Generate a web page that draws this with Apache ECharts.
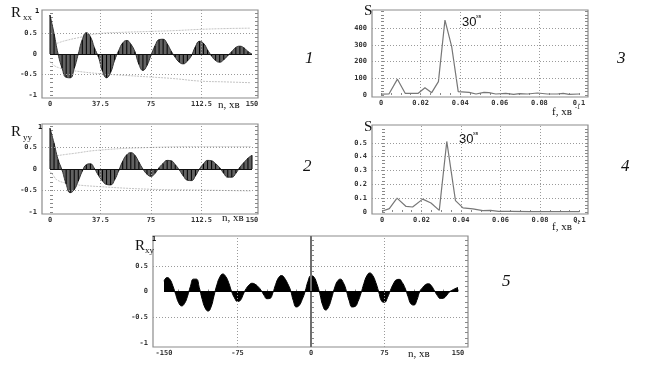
<!DOCTYPE html>
<html><head><meta charset="utf-8">
<script src="https://cdn.jsdelivr.net/npm/echarts@6/dist/echarts.min.js"></script>
<style>html,body{margin:0;padding:0;background:#fff}#c{width:648px;height:379px}</style>
</head><body><div id="c"></div>
<script>
// ---------- data ----------
const lagA = [0,3,6,9,12,15,18,21,24,27,30,33,36,39,42,45,48,51,54,57,60,63,66,69,72,75,78,81,84,87,90,93,96,99,102,105,108,111,114,117,120,123,126,129,132,135,138,141,144,147,150];
const rxx = [0.95,0.5,0.0,-0.35,-0.57,-0.58,-0.35,0.0,0.35,0.52,0.42,0.15,-0.08,-0.42,-0.58,-0.45,-0.15,0.08,0.27,0.33,0.24,0.06,-0.25,-0.4,-0.28,-0.03,0.2,0.35,0.36,0.25,0.07,-0.08,-0.2,-0.24,-0.17,-0.04,0.18,0.31,0.26,0.1,-0.05,-0.16,-0.2,-0.14,-0.04,0.06,0.16,0.19,0.15,0.06,0.0];
const ryy = [0.95,0.6,0.22,-0.03,-0.35,-0.55,-0.48,-0.28,-0.05,0.1,0.12,0.01,-0.15,-0.28,-0.36,-0.37,-0.25,-0.04,0.18,0.33,0.38,0.32,0.16,0.0,-0.12,-0.17,-0.1,0.03,0.13,0.2,0.19,0.1,-0.02,-0.16,-0.26,-0.27,-0.16,0.0,0.12,0.2,0.19,0.12,0.03,-0.1,-0.19,-0.19,-0.1,0.04,0.15,0.25,0.32];
const bandXXn  = [0,3,7,12,20,37,55,74,92,111,130,149];
const bandXXup = [0.12,0.22,0.28,0.33,0.39,0.5,0.53,0.55,0.57,0.6,0.62,0.63];
const bandXXlo = [-0.18,-0.28,-0.34,-0.38,-0.42,-0.48,-0.52,-0.56,-0.6,-0.66,-0.68,-0.7];
const bandYYn  = [0,2.5,5,12,17,37,74,111,149];
const bandYYup = [0.2,0.3,0.31,0.34,0.36,0.44,0.5,0.52,0.52];
const bandYYlo = [-0.06,-0.15,-0.25,-0.33,-0.36,-0.41,-0.47,-0.49,-0.51];
const f3 = [0,0.004,0.0083,0.0122,0.0188,0.0222,0.0256,0.029,0.0323,0.0357,0.039,0.0445,0.048,0.052,0.0545,0.058,0.063,0.067,0.07,0.074,0.079,0.084,0.089,0.092,0.095,0.1];
const s3 = [5,6,95,10,10,44,14,80,450,290,20,16,6,16,14,6,10,4,8,6,12,6,6,10,4,6];
const f4 = [0,0.0037,0.0076,0.0122,0.0155,0.0206,0.0248,0.029,0.0328,0.0372,0.041,0.046,0.051,0.055,0.059,0.065,0.075,0.085,0.1];
const s4 = [0.005,0.024,0.1,0.04,0.036,0.093,0.065,0.012,0.51,0.082,0.03,0.022,0.01,0.012,0.005,0.004,0.003,0.003,0.003];
const lag5 = [-150,-147,-144,-141,-138,-135,-132,-129,-126,-123,-120,-117,-114,-111,-108,-105,-102,-99,-96,-93,-90,-87,-84,-81,-78,-75,-72,-69,-66,-63,-60,-57,-54,-51,-48,-45,-42,-39,-36,-33,-30,-27,-24,-21,-18,-15,-12,-9,-6,-3,0,3,6,9,12,15,18,21,24,27,30,33,36,39,42,45,48,51,54,57,60,63,66,69,72,75,78,81,84,87,90,93,96,99,102,105,108,111,114,117,120,123,126,129,132,135,138,141,144,147,150];
const rxy = [0.20,0.27,0.236,0.11,-0.06,-0.22,-0.28,-0.23,-0.09,0.10,0.24,0.24,0.075,-0.15,-0.32,-0.38,-0.30,-0.085,0.13,0.28,0.34,0.29,0.17,0,-0.125,-0.195,-0.17,-0.05,0.06,0.13,0.16,0.14,0.094,0.025,-0.07,-0.14,-0.135,-0.03,0.14,0.27,0.31,0.26,0.16,0.03,-0.18,-0.30,-0.27,-0.155,0,0.2,0.306,0.28,0.15,-0.04,-0.27,-0.36,-0.295,-0.13,0.066,0.2,0.24,0.17,0.02,-0.18,-0.30,-0.29,-0.19,-0.034,0.156,0.305,0.36,0.31,0.18,0,-0.185,-0.21,-0.12,0.02,0.145,0.225,0.236,0.177,0.066,-0.096,-0.24,-0.263,-0.168,0,0.08,0.134,0.15,0.106,0.014,-0.08,-0.136,-0.13,-0.085,-0.013,0.025,0.055,0.08];
// tick labels
const lagTicks = [0,37.5,75,112.5,150];
const corrTicks = [-1,-0.5,0,0.5];
const corrMinor = [-1,-0.9,-0.8,-0.7,-0.6,-0.5,-0.4,-0.3,-0.2,-0.1,0,0.1,0.2,0.3,0.4,0.5,0.6,0.7,0.8,0.9,1];
const fTicks = [0,0.02,0.04,0.06,0.08,0.1];
const fMinor = [0,0.005,0.01,0.015,0.02,0.025,0.03,0.035,0.04,0.045,0.05,0.055,0.06,0.065,0.07,0.075,0.08,0.085,0.09,0.095,0.1];
const s3Ticks = [0,100,200,300,400];
const s3Minor = [0,20,40,60,80,100,120,140,160,180,200,220,240,260,280,300,320,340,360,380,400,420,440,460,480,500];
const s4Ticks = [0,0.1,0.2,0.3,0.4,0.5];
const s4Minor = [0,0.025,0.05,0.075,0.1,0.125,0.15,0.175,0.2,0.225,0.25,0.275,0.3,0.325,0.35,0.375,0.4,0.425,0.45,0.475,0.5,0.525,0.55,0.575,0.6];
const lag5Ticks = [-150,-75,0,75,150];
const lag5Minor = [-150,-135,-120,-105,-90,-75,-60,-45,-30,-15,0,15,30,45,60,75,90,105,120,135,150];

// ---------- layout ----------
const zip = (a, b) => a.map((v, i) => [v, b[i]]);
function ext(a, b, pa, pb, lo, hi) { const k = (b - a) / (pb - pa); return [a + (lo - pa) * k, a + (hi - pa) * k]; }
const G = [
  {l:42, t:10, r:258, b:98,  x:ext(0,150,50,252,42,258),       y:ext(0,0.5,54,33.5,98,10)},
  {l:42, t:124,r:258, b:214, x:ext(0,150,50,252,42,258),       y:ext(0,-1,169,212,214,124)},
  {l:372,t:10, r:588, b:97,  x:ext(0,0.1,381,579,372,588),     y:ext(0,500,95,11.7,97,10)},
  {l:372,t:125,r:588, b:214, x:ext(0,0.1,382,579.5,372,588),   y:ext(0,0.6,212,129,214,125)},
  {l:153,t:236,r:468, b:347, x:ext(-150,150,164,458,153,468),  y:ext(0,1,291.5,240,347,236)}
];
const lblFont = {fontSize:7, fontFamily:'DejaVu Sans Mono', fontWeight:'bold', color:'#333'};
const grids = G.map(g => ({left:g.l, top:g.t, width:g.r-g.l, height:g.b-g.t, show:true, borderColor:'#8c8c8c', borderWidth:1.2, backgroundColor:'#fff'}));
const xAxes = [], yAxes = [];
const cfg = [
  {xl:lagTicks, xm:null, yl:corrTicks, ym:corrMinor},
  {xl:lagTicks, xm:null, yl:corrTicks, ym:corrMinor},
  {xl:fTicks, xm:fMinor, yl:s3Ticks, ym:s3Minor},
  {xl:fTicks, xm:fMinor, yl:s4Ticks, ym:s4Minor},
  {xl:lag5Ticks, xm:lag5Minor, yl:corrTicks, ym:corrMinor}
];
G.forEach((g, i) => {
  const c = cfg[i];
  xAxes.push({type:'value', gridIndex:i, min:g.x[0], max:g.x[1], splitLine:{show:false}, axisLine:{show:false},
    axisTick:{show:!!c.xm, inside:true, length:2, customValues:c.xm || [], lineStyle:{color:'#888'}},
    axisLabel:Object.assign({customValues:c.xl, margin:3, showMinLabel:true, showMaxLabel:true}, lblFont)});
  yAxes.push({type:'value', gridIndex:i, min:g.y[0], max:g.y[1], splitLine:{show:false}, axisLine:{show:false},
    axisTick:{show:true, inside:true, length:3, customValues:c.ym, lineStyle:{color:'#888'}},
    axisLabel:Object.assign({customValues:c.yl, margin:5, showMinLabel:true, showMaxLabel:true}, lblFont)});
  yAxes.push({type:'value', gridIndex:i, position:'right', min:g.y[0], max:g.y[1], splitLine:{show:false}, axisLine:{show:false},
    axisTick:{show:true, inside:true, length:3, customValues:c.ym, lineStyle:{color:'#888'}}, axisLabel:{show:false}});
});
const dotted = {type:[1,2], color:'#9a9a9a', width:1};
function gridLines(i, xs, ys) {
  return {type:'line', xAxisIndex:i, yAxisIndex:2*i, data:[], z:1, silent:true,
    markLine:{silent:true, symbol:'none', label:{show:false}, animation:false, lineStyle:dotted,
      data: xs.map(v => ({xAxis:v})).concat(ys.map(v => ({yAxis:v})))}};
}
function zeroLine(a, b, color) {
  return {silent:true, symbol:'none', label:{show:false}, animation:false, lineStyle:{type:'solid', color:color, width:1},
    data:[[{coord:[a,0]},{coord:[b,0]}]]};
}
const series = [
  gridLines(0, [37.5,75,112.5], [-0.5,0.5]),
  gridLines(1, [37.5,75,112.5], [-0.5,0.5]),
  gridLines(2, [0.02,0.04,0.06,0.08], [100,200,300,400]),
  gridLines(3, [0.02,0.04,0.06,0.08], [0.1,0.2,0.3,0.4,0.5]),
  gridLines(4, [-75,75], [-0.5,0.5]),
  // panel 1
  {type:'line', xAxisIndex:0, yAxisIndex:0, data:zip(bandXXn,bandXXup), symbol:'none', smooth:true, z:2, lineStyle:{color:'#c4c4c4', width:1, type:[2,1]}},
  {type:'line', xAxisIndex:0, yAxisIndex:0, data:zip(bandXXn,bandXXlo), symbol:'none', smooth:true, z:2, lineStyle:{color:'#c4c4c4', width:1, type:[2,1]}},
  {type:'line', xAxisIndex:0, yAxisIndex:0, data:zip(lagA,rxx), symbol:'none', smooth:true, z:3, lineStyle:{color:'#333', width:1}, areaStyle:{color:'#626262', opacity:1}},
  {type:'bar', xAxisIndex:0, yAxisIndex:0, data:zip(lagA,rxx), barWidth:1, z:4, itemStyle:{color:'#000'}, markLine:zeroLine(0,150,'#111')},
  // panel 2
  {type:'line', xAxisIndex:1, yAxisIndex:2, data:zip(bandYYn,bandYYup), symbol:'none', smooth:true, z:2, lineStyle:{color:'#c4c4c4', width:1, type:[2,1]}},
  {type:'line', xAxisIndex:1, yAxisIndex:2, data:zip(bandYYn,bandYYlo), symbol:'none', smooth:true, z:2, lineStyle:{color:'#c4c4c4', width:1, type:[2,1]}},
  {type:'line', xAxisIndex:1, yAxisIndex:2, data:zip(lagA,ryy), symbol:'none', smooth:true, z:3, lineStyle:{color:'#333', width:1}, areaStyle:{color:'#626262', opacity:1}},
  {type:'bar', xAxisIndex:1, yAxisIndex:2, data:zip(lagA,ryy), barWidth:1, z:4, itemStyle:{color:'#000'}, markLine:zeroLine(0,150,'#111')},
  // panel 3
  {type:'line', xAxisIndex:2, yAxisIndex:4, data:zip(f3,s3), symbol:'none', z:3, lineStyle:{color:'#777', width:1.2}},
  // panel 4
  {type:'line', xAxisIndex:3, yAxisIndex:6, data:zip(f4,s4), symbol:'none', z:3, lineStyle:{color:'#777', width:1.2}},
  // panel 5
  {type:'line', xAxisIndex:4, yAxisIndex:8, data:[], z:2, silent:true,
    markLine:{silent:true, symbol:'none', label:{show:false}, animation:false, lineStyle:{type:'solid', color:'#6e6e6e', width:2}, data:[{xAxis:0}]}},
  {type:'line', xAxisIndex:4, yAxisIndex:8, data:zip(lag5,rxy), symbol:'none', smooth:true, z:3, lineStyle:{color:'#000', width:1}, areaStyle:{color:'#000', opacity:1}, markLine:zeroLine(-150,150,'#000')}
];
const serif = '"Liberation Serif", serif';
function txt(x, y, text, font) {
  return {type:'text', x:x, y:y, silent:true, style:{text:text, font:font, fill:'#111', align:'left', textAlign:'left', verticalAlign:'top', textVerticalAlign:'top'}};
}
const graphic = [
  txt(11, 6, 'R', '15px ' + serif), txt(23, 13, 'xx', '9px ' + serif), txt(35, 8, '1', 'bold 7px "DejaVu Sans Mono"'),
  txt(11, 125, 'R', '15px ' + serif), txt(23, 133, 'yy', '9px ' + serif), txt(38, 124, '1', 'bold 7px "DejaVu Sans Mono"'),
  txt(135, 239, 'R', '15px ' + serif), txt(145, 246, 'xy', '9px ' + serif), txt(152, 236, '1', 'bold 7px "DejaVu Sans Mono"'),
  txt(218, 100, 'n, хв', '11px ' + serif), txt(222, 213, 'n, хв', '11px ' + serif), txt(408, 349, 'n, хв', '11px ' + serif),
  txt(552, 107, 'f, хв', '11px ' + serif), txt(575, 104, '-1', '6px ' + serif),
  txt(552, 222, 'f, хв', '11px ' + serif), txt(575, 219, '-1', '6px ' + serif),
  txt(364, 4, 'S', '15px ' + serif), txt(364, 120, 'S', '15px ' + serif),
  txt(462, 16, '30', '13px "Liberation Sans"'), txt(476, 14, 'хв', '5px "Liberation Sans"'),
  txt(459, 133, '30', '13px "Liberation Sans"'), txt(473, 131, 'хв', '5px "Liberation Sans"'),
  txt(305, 50, '1', 'italic 17px ' + serif), txt(303, 158, '2', 'italic 17px ' + serif),
  txt(617, 50, '3', 'italic 17px ' + serif), txt(621, 158, '4', 'italic 17px ' + serif),
  txt(502, 273, '5', 'italic 17px ' + serif)
];
const chart = echarts.init(document.getElementById('c'), null, {renderer:'canvas'});
chart.setOption({animation:false, backgroundColor:'#fff', grid:grids, xAxis:xAxes, yAxis:yAxes, series:series, graphic:graphic});
</script></body></html>
